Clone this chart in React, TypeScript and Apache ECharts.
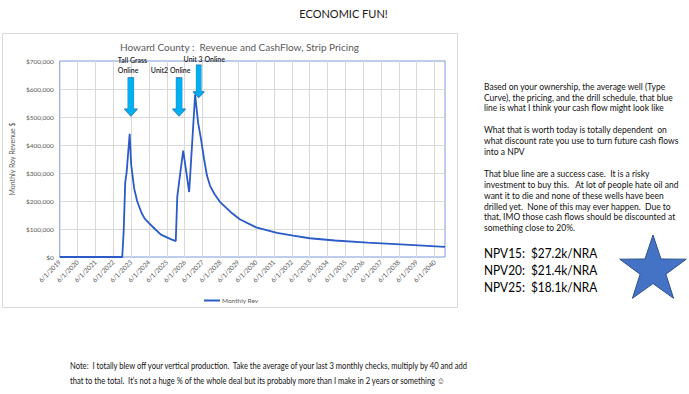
import React, { useEffect, useRef } from "react";
import * as echarts from "echarts";

// x axis tick labels (one per year, every 12 months)
const tickLabels = [
  "6/1/2019", "6/1/2020", "6/1/2021", "6/1/2022", "6/1/2023", "6/1/2024",
  "6/1/2025", "6/1/2026", "6/1/2027", "6/1/2028", "6/1/2029", "6/1/2030",
  "6/1/2031", "6/1/2032", "6/1/2033", "6/1/2034", "6/1/2035", "6/1/2036",
  "6/1/2037", "6/1/2038", "6/1/2039", "6/1/2040",
];

// months since 6/1/2019 and monthly revenue ($)
const months = [
  0, 42, 43, 44, 45, 47, 48, 50, 52, 55, 57, 60, 64, 68, 72, 75, 78,
  79, 81, 83, 87, 91, 93, 95, 97, 99, 101, 104, 108, 115, 121, 132,
  146, 157, 168, 185, 207, 229, 259,
];
const revenue = [
  0, 0, 95000, 265000, 305000, 440000, 330000, 245000, 200000, 157000, 138000, 121000, 100000, 80000, 70000, 63000, 57000,
  215000, 300000, 380000, 232000, 580000, 480000, 420000, 350000, 290000, 255000, 225000, 195000, 160000, 135000, 106000,
  86000, 76000, 67000, 59000, 51000, 45000, 36000,
];

// annotations
const annotationLabels = ["Tall Grass\nOnline", "Unit2 Online", "Unit 3 Online"];
const annotationMonths = [47.8, 80.2, 93.4];
const annotationValues = [503000, 503000, 569000];

const sideText = [
  "Based on your ownership, the average well (Type",
  "Curve), the pricing, and the drill schedule, that blue",
  "line is what I think your cash flow might look like",
  "",
  "What that is worth today is totally dependent  on",
  "what discount rate you use to turn future cash flows",
  "into a NPV",
  "",
  "That blue line are a success case.  It is a risky",
  "investment to buy this.   At lot of people hate oil and",
  "want it to die and none of these wells have been",
  "drilled yet.  None of this may ever happen.  Due to",
  "that, IMO those cash flows should be discounted at",
  "something close to 20%.",
];
const npvLabels = ["NPV15:  $27.2k/NRA", "NPV20:  $21.4k/NRA", "NPV25:  $18.1k/NRA"];
const noteLines = [
  "Note:  I totally blew off your vertical production.  Take the average of your last 3 monthly checks, multiply by 40 and add",
  "that to the total.  It\u2019s not a huge % of the whole deal but its probably more than I make in 2 years or something \u263A",
];

const FONT = "Lato, 'Open Sans', sans-serif";

function starPoints(cx: number, cy: number, R: number, r: number) {
  const pts: number[][] = [];
  for (let i = 0; i < 10; i++) {
    const rad = i % 2 === 0 ? R : r;
    const a = -Math.PI / 2 + (i * Math.PI) / 5;
    pts.push([cx + rad * Math.cos(a), cy + rad * Math.sin(a)]);
  }
  return pts;
}

const arrowPath = "path://M3.5,0 L9.5,0 L9.5,31 L13,31 L6.5,38 L0,31 L3.5,31 Z";
const labelOffsets = [[-13, 0], [-8.4, 0], [5.6, 0]];
const labelDistances = [2, 2, 0];
const labelAligns = ["left", "center", "center"];
const arrowSizes = [[13.3, 38.3], [13.3, 38.3], [11.5, 32.7]];

export default function App() {
  const ref = useRef<HTMLDivElement>(null);
  useEffect(() => {
    if (!ref.current) return;
    const chart = echarts.init(ref.current, undefined, { renderer: "svg" });
    const markData = annotationLabels.map((t, i) => ({
      name: t,
      coord: [annotationMonths[i], annotationValues[i]],
      symbol: arrowPath,
      symbolSize: arrowSizes[i],
      symbolKeepAspect: false,
      symbolOffset: [0, "-50%"],
      label: {
        show: true,
        formatter: t,
        position: "top",
        distance: labelDistances[i],
        offset: labelOffsets[i],
        align: labelAligns[i],
        fontSize: 7,
        fontWeight: 600,
        lineHeight: 10,
        color: "#262626",
        fontFamily: FONT,
      },
    }));

    chart.setOption({
      animation: false,
      backgroundColor: "#ffffff",
      textStyle: { fontFamily: FONT },
      grid: {
        left: 53.5,
        right: 244,
        top: 61,
        bottom: 137,
        show: true,
        borderColor: "#7b9ad6",
        borderWidth: 1,
        backgroundColor: "transparent",
        containLabel: false,
      },
      legend: {
        data: ["Monthly Rev"],
        left: 199,
        top: 292,
        icon: "rect",
        itemWidth: 16,
        itemHeight: 2,
        itemGap: 2,
        textStyle: { fontSize: 6.5, color: "#595959", fontFamily: FONT, padding: [0, 0, 0, -3] },
      },
      xAxis: {
        type: "value",
        min: 0,
        max: 259,
        interval: 12,
        axisLine: { show: false },
        axisTick: { show: false },
        splitLine: { show: true, showMinLine: false, showMaxLine: false, lineStyle: { color: "#d9d9d9", width: 1 } },
        axisLabel: {
          rotate: 45,
          fontSize: 6.5,
          color: "#595959",
          margin: 4,
          showMaxLabel: false,
          formatter: (v: number) => tickLabels[Math.round(v / 12)] ?? "",
        },
      },
      yAxis: {
        type: "value",
        min: 0,
        max: 700000,
        interval: 100000,
        name: "Monthly Roy Revenue $",
        nameLocation: "middle",
        nameGap: 42,
        nameTextStyle: { fontSize: 7, color: "#595959", fontFamily: FONT },
        axisLine: { show: false },
        axisTick: { show: false },
        splitLine: { show: true, showMinLine: false, showMaxLine: false, lineStyle: { color: "#d9d9d9", width: 1 } },
        axisLabel: {
          fontSize: 6.5,
          color: "#595959",
          margin: 6,
          formatter: (v: number) => "$" + v.toLocaleString("en-US"),
        },
      },
      series: [
        {
          name: "Monthly Rev",
          type: "line",
          data: months.map((m, i) => [m, revenue[i]]),
          showSymbol: false,
          symbol: "none",
          lineStyle: { color: "#2a5bc6", width: 1.8 },
          itemStyle: { color: "#2a5bc6" },
          markPoint: {
            itemStyle: { color: "#00b0f0", borderColor: "#2e75b6", borderWidth: 0.6 },
            data: markData,
          },
        },
      ],
      graphic: [
        {
          type: "rect",
          z: -10,
          silent: true,
          shape: { x: 2.5, y: 33.5, width: 455, height: 274 },
          style: { fill: "none", stroke: "#d9d9d9", lineWidth: 1 },
        },
        {
          type: "text",
          x: 343.5,
          y: 13.5,
          style: {
            text: "ECONOMIC FUN!",
            fontSize: 11,
            fontFamily: FONT,
            fill: "#1a1a1a",
            align: "center",
            verticalAlign: "middle",
          },
        },
        {
          type: "text",
          x: 239.5,
          y: 46.7,
          style: {
            text: "Howard County :  Revenue and CashFlow, Strip Pricing",
            fontSize: 10,
            fontFamily: FONT,
            fill: "#595959",
            align: "center",
            verticalAlign: "middle",
          },
        },
        {
          type: "text",
          x: 484,
          y: 81.2,
          style: {
            text: sideText.join("\n"),
            fontSize: 8.5,
            lineHeight: 10.9,
            fontFamily: FONT,
            fill: "#111111",
            align: "left",
            verticalAlign: "top",
          },
        },
        {
          type: "text",
          x: 484,
          y: 244.5,
          scaleX: 0.88,
          style: {
            text: npvLabels.join("\n"),
            fontSize: 13.5,
            lineHeight: 17,
            fontFamily: FONT,
            fill: "#000000",
            align: "left",
            verticalAlign: "top",
          },
        },
        {
          type: "text",
          x: 70,
          y: 358,
          scaleX: 0.8,
          style: {
            text: noteLines.join("\n"),
            fontSize: 9.5,
            lineHeight: 15.3,
            fontFamily: FONT,
            fill: "#111111",
            align: "left",
            verticalAlign: "top",
          },
        },
        {
          type: "polygon",
          shape: { points: starPoints(653, 270, 35, 13.6) },
          style: { fill: "#4472c4", stroke: "#2f528f", lineWidth: 1 },
        },
      ],
    });
    return () => chart.dispose();
  }, []);
  return (
    <div
      ref={ref}
      style={{ position: "absolute", left: 0, top: 0, width: 689, height: 394 }}
    />
  );
}
